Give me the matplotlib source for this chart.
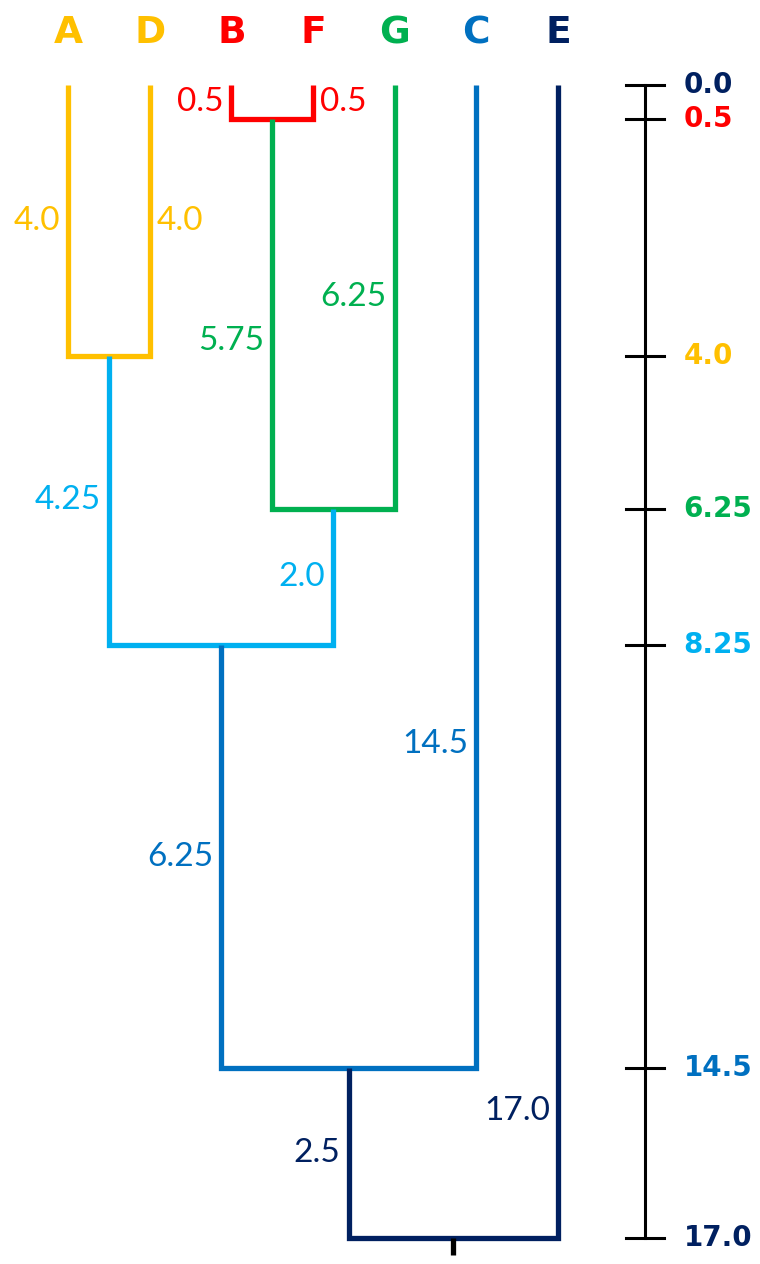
import matplotlib
matplotlib.use("Agg")
import matplotlib.pyplot as plt

# leaves, left to right
leaves = ['A', 'D', 'B', 'F', 'G', 'C', 'E']
leaf_colors = ['#FFC000', '#FFC000', '#FF0000', '#FF0000', '#00B050', '#0070C0', '#002060']

# merges (left node, right node, height, colour)
merge_left = ['A', 'B', 'BF', 'AD', 'ADBFG', 'ADBFGC']
merge_right = ['D', 'F', 'G', 'BFG', 'C', 'E']
merge_name = ['AD', 'BF', 'BFG', 'ADBFG', 'ADBFGC', 'ROOT']
merge_height = [4.0, 0.5, 6.25, 8.25, 14.5, 17.0]
merge_colors = ['#FFC000', '#FF0000', '#00B050', '#00B0F0', '#0070C0', '#002060']

plt.rcParams['font.family'] = ['Lato', 'DejaVu Sans']

fig = plt.figure(figsize=(7.6, 12.64), dpi=100)
ax = fig.add_axes([0, 0, 1, 1])
ax.set_xlim(-0.833, 8.473)
ax.set_ylim(17.383, -1.253)
ax.axis('off')

xpos = {n: i for i, n in enumerate(leaves)}
ypos = {n: 0.0 for n in leaves}

def fmt(v):
    s = f"{v:.2f}"
    return s[:-1] if s.endswith('0') else s

lw = 3.8
fs = 24
for l, r, name, h, c in zip(merge_left, merge_right, merge_name, merge_height, merge_colors):
    xl, xr = xpos[l], xpos[r]
    yl, yr = ypos[l], ypos[r]
    ax.plot([xl, xl, xr, xr], [yl, h, h, yr], color=c, lw=lw,
            solid_joinstyle='miter', solid_capstyle='butt')
    xpos[name] = (xl + xr) / 2
    ypos[name] = h
    # branch length labels
    left_frac = 0.5
    right_frac = 0.5
    right_side = 'left'
    if name in ('AD', 'BF'):
        right_side = 'right'
    if name == 'BFG':
        left_frac = 0.57
    if name == 'ADBFGC':
        right_frac = 0.67
    if name == 'ROOT':
        right_frac = 0.89
    ax.text(xl - 0.1, yl + (h - yl) * left_frac, fmt(h - yl), color=c,
            fontsize=fs, ha='right', va='center')
    if right_side == 'right':
        ax.text(xr + 0.08, yr + (h - yr) * right_frac, fmt(h - yr), color=c,
                fontsize=fs, ha='left', va='center')
    else:
        ax.text(xr - 0.1, yr + (h - yr) * right_frac, fmt(h - yr), color=c,
                fontsize=fs, ha='right', va='center')

# root stub
ax.plot([xpos['ROOT'], xpos['ROOT']], [17.0, 17.25], color='black', lw=lw, solid_capstyle='butt')

# leaf labels
for n, c in zip(leaves, leaf_colors):
    ax.text(xpos[n], -0.76, n, color=c, fontsize=27, fontweight='bold',
            family='DejaVu Sans', ha='center', va='center')

# height scale on the right
sx = 7.065
ax.plot([sx, sx], [0, 17.0], color='black', lw=2.2)
scale_vals = [0.0] + sorted(merge_height)
scale_colors = ['#002060', '#FF0000', '#FFC000', '#00B050', '#00B0F0', '#0070C0', '#002060']
for v, c in zip(scale_vals, scale_colors):
    ax.plot([sx - 0.23, sx + 0.23], [v, v], color='black', lw=2.2)
    ax.text(sx + 0.47, v, f"{v:g}" if v % 1 else f"{v:.1f}", color=c,
            fontsize=20, fontweight='bold', family='DejaVu Sans', ha='left', va='center')

fig.savefig('out.png', dpi=100)
